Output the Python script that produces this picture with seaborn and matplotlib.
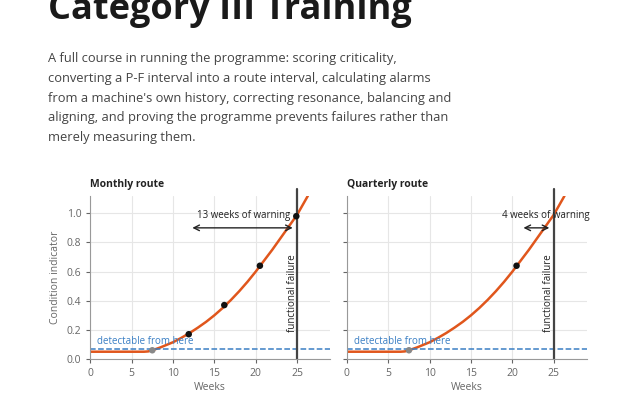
import numpy as np
import seaborn as sns
import matplotlib.pyplot as plt

weeks = [0, 6.5, 7.0, 7.5, 8.5, 10, 11, 12, 13, 14, 15, 16, 17, 18, 19, 20, 21, 22, 23, 24, 25, 26.3]
condition = [0.05, 0.05, 0.052, 0.06, 0.08, 0.115, 0.145, 0.178, 0.215, 0.255, 0.3, 0.35,
             0.405, 0.465, 0.53, 0.6, 0.675, 0.75, 0.83, 0.91, 0.99, 1.12]
monthly_weeks = [7.5, 11.9, 16.2, 20.5, 24.9]
monthly_vals = [0.06, 0.17, 0.37, 0.64, 0.98]
quarterly_weeks = [7.5, 20.5]
quarterly_vals = [0.06, 0.64]
detect_level = 0.07
failure_week = 25
warning = {"Monthly route": (12, "13 weeks of warning", 18.5),
           "Quarterly route": (21, "4 weeks of warning", 24.0)}

sns.set_style("whitegrid")
plt.rcParams["font.family"] = ["Open Sans", "DejaVu Sans"]

fig = plt.figure(figsize=(6.4, 4.0), dpi=100)
fig.text(0.075, 0.975, "Category III Training", fontsize=26, fontweight="bold",
         color="#1a1a1a", va="center")
para = ("A full course in running the programme: scoring criticality,\n"
        "converting a P-F interval into a route interval, calculating alarms\n"
        "from a machine's own history, correcting resonance, balancing and\n"
        "aligning, and proving the programme prevents failures rather than\n"
        "merely measuring them.")
fig.text(0.075, 0.87, para, fontsize=9.3, color="#444444", va="top", linespacing=1.68)

panels = [("Monthly route", monthly_weeks, monthly_vals, 0.141),
          ("Quarterly route", quarterly_weeks, quarterly_vals, 0.542)]
for i, (name, px, py, left) in enumerate(panels):
    ax = fig.add_axes([left, 0.1025, 0.375, 0.408])
    sns.lineplot(x=weeks, y=condition, ax=ax, color="#e0561c", lw=1.8)
    sns.scatterplot(x=px[:1], y=py[:1], ax=ax, color="#888888", s=22, zorder=5, edgecolor="none")
    sns.scatterplot(x=px[1:], y=py[1:], ax=ax, color="#111111", s=22, zorder=5, edgecolor="none")
    ax.axhline(detect_level, color="#3a7fc4", ls="--", lw=1.1)
    ax.axvline(failure_week, color="#444444", lw=1.6, ymax=1.04, clip_on=False)
    ax.text(0.8, detect_level + 0.03, "detectable from here", color="#3a7fc4", fontsize=7)
    ax.text(failure_week - 0.6, 0.45, "functional failure", rotation=90, fontsize=7,
            ha="center", va="center", color="#222222")
    start, label, lx = warning[name]
    ax.annotate("", xy=(failure_week - 0.2, 0.9), xytext=(start, 0.9),
                arrowprops=dict(arrowstyle="<->", color="#222222", lw=1))
    ax.text(lx, 0.95, label, fontsize=7, ha="center", va="bottom", color="#222222")
    ax.set_xlim(0, 29)
    ax.set_ylim(0, 1.12)
    ax.set_xticks([0, 5, 10, 15, 20, 25])
    ax.set_yticks([0, 0.2, 0.4, 0.6, 0.8, 1.0])
    ax.grid(color="#e6e6e6", lw=0.8)
    for s in ["top", "right"]:
        ax.spines[s].set_visible(False)
    for s in ["left", "bottom"]:
        ax.spines[s].set_color("#999999")
    ax.tick_params(labelsize=7.5, colors="#666666", length=3, left=True, bottom=True)
    ax.set_xlabel("Weeks", fontsize=7.5, color="#666666", labelpad=2)
    ax.set_title(name, fontsize=7.5, fontweight="bold", loc="left", color="#222222")
    if i == 0:
        ax.set_ylabel("Condition indicator", fontsize=7.5, color="#666666")
        ax.yaxis.set_major_formatter(plt.FormatStrFormatter("%.1f"))
    else:
        ax.set_yticklabels([])

fig.savefig("out.png", dpi=100)
